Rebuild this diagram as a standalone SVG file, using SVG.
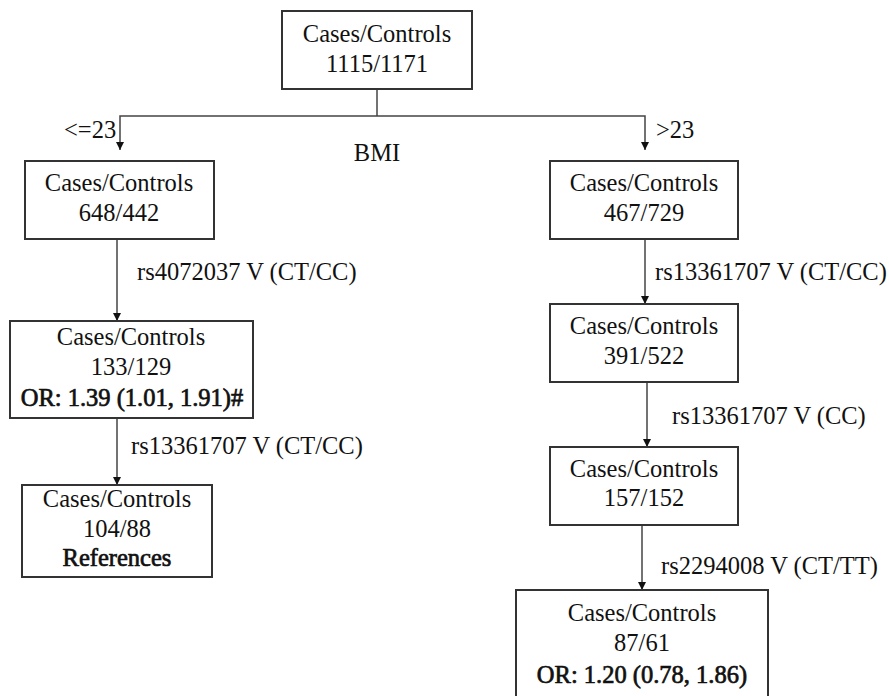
<svg xmlns="http://www.w3.org/2000/svg" width="889" height="696" viewBox="0 0 889 696">
<defs>
<marker id="arr" viewBox="0 0 10 10" refX="10" refY="5" markerWidth="8" markerHeight="8" markerUnits="userSpaceOnUse" orient="auto">
<path d="M0,0 L10,5 L0,10 Z" fill="#111"/>
</marker>
<style>
text{font-family:"Liberation Serif","Times New Roman",serif;font-size:24.5px;fill:#111}
.c{text-anchor:middle}
.b{stroke:#111;stroke-width:0.7}
rect{fill:#fff;stroke:#333;stroke-width:2}
.e{fill:none;stroke:#444;stroke-width:1.5}
.a{marker-end:url(#arr)}
</style>
</defs>
<rect x="0" y="0" width="889" height="696" style="fill:#fff;stroke:none"/>
<g id="connectors">
<polyline class="e" points="377,89 377,116"/>
<polyline class="e a" points="377,116 120,116 120,150"/>
<polyline class="e a" points="377,116 645,116 645,150"/>
<line class="e a" x1="117" y1="239" x2="117" y2="321"/>
<line class="e a" x1="117" y1="418" x2="117" y2="485"/>
<line class="e a" x1="645" y1="239" x2="645" y2="304"/>
<line class="e a" x1="647" y1="382" x2="647" y2="447"/>
<line class="e a" x1="642" y1="525" x2="642" y2="590"/>
<text x="64" y="138">&lt;=23</text>
<text x="656" y="138">&gt;23</text>
<text class="c" x="377" y="161">BMI</text>
<text x="137" y="280">rs4072037 V (CT/CC)</text>
<text x="131" y="454">rs13361707 V (CT/CC)</text>
<text x="655" y="280">rs13361707 V (CT/CC)</text>
<text x="672" y="424">rs13361707 V (CC)</text>
<text x="661" y="574">rs2294008 V (CT/TT)</text>
</g>
<g id="root">
<rect x="282" y="11" width="190" height="78"/>
<text class="c" x="377" y="42">Cases/Controls</text>
<text class="c" x="377" y="72">1115/1171</text>
</g>
<g id="left1">
<rect x="25" y="161" width="189" height="78"/>
<text class="c" x="119" y="191">Cases/Controls</text>
<text class="c" x="119" y="221">648/442</text>
</g>
<g id="left2">
<rect x="10" y="321" width="243" height="97"/>
<text class="c" x="131" y="345">Cases/Controls</text>
<text class="c" x="131" y="375">133/129</text>
<text class="c b" x="132" y="406">OR: 1.39 (1.01, 1.91)#</text>
</g>
<g id="left3">
<rect x="22" y="485" width="190" height="92"/>
<text class="c" x="117" y="507">Cases/Controls</text>
<text class="c" x="117" y="537">104/88</text>
<text class="c b" x="117" y="566">References</text>
</g>
<g id="right1">
<rect x="550" y="161" width="188" height="78"/>
<text class="c" x="644" y="191">Cases/Controls</text>
<text class="c" x="644" y="221">467/729</text>
</g>
<g id="right2">
<rect x="550" y="304" width="188" height="78"/>
<text class="c" x="644" y="334">Cases/Controls</text>
<text class="c" x="644" y="364">391/522</text>
</g>
<g id="right3">
<rect x="550" y="447" width="188" height="78"/>
<text class="c" x="644" y="477">Cases/Controls</text>
<text class="c" x="644" y="506">157/152</text>
</g>
<g id="right4">
<rect x="516" y="590" width="252" height="115"/>
<text class="c" x="642" y="621">Cases/Controls</text>
<text class="c" x="642" y="651">87/61</text>
<text class="c b" x="642" y="683">OR: 1.20 (0.78, 1.86)</text>
</g>
</svg>
